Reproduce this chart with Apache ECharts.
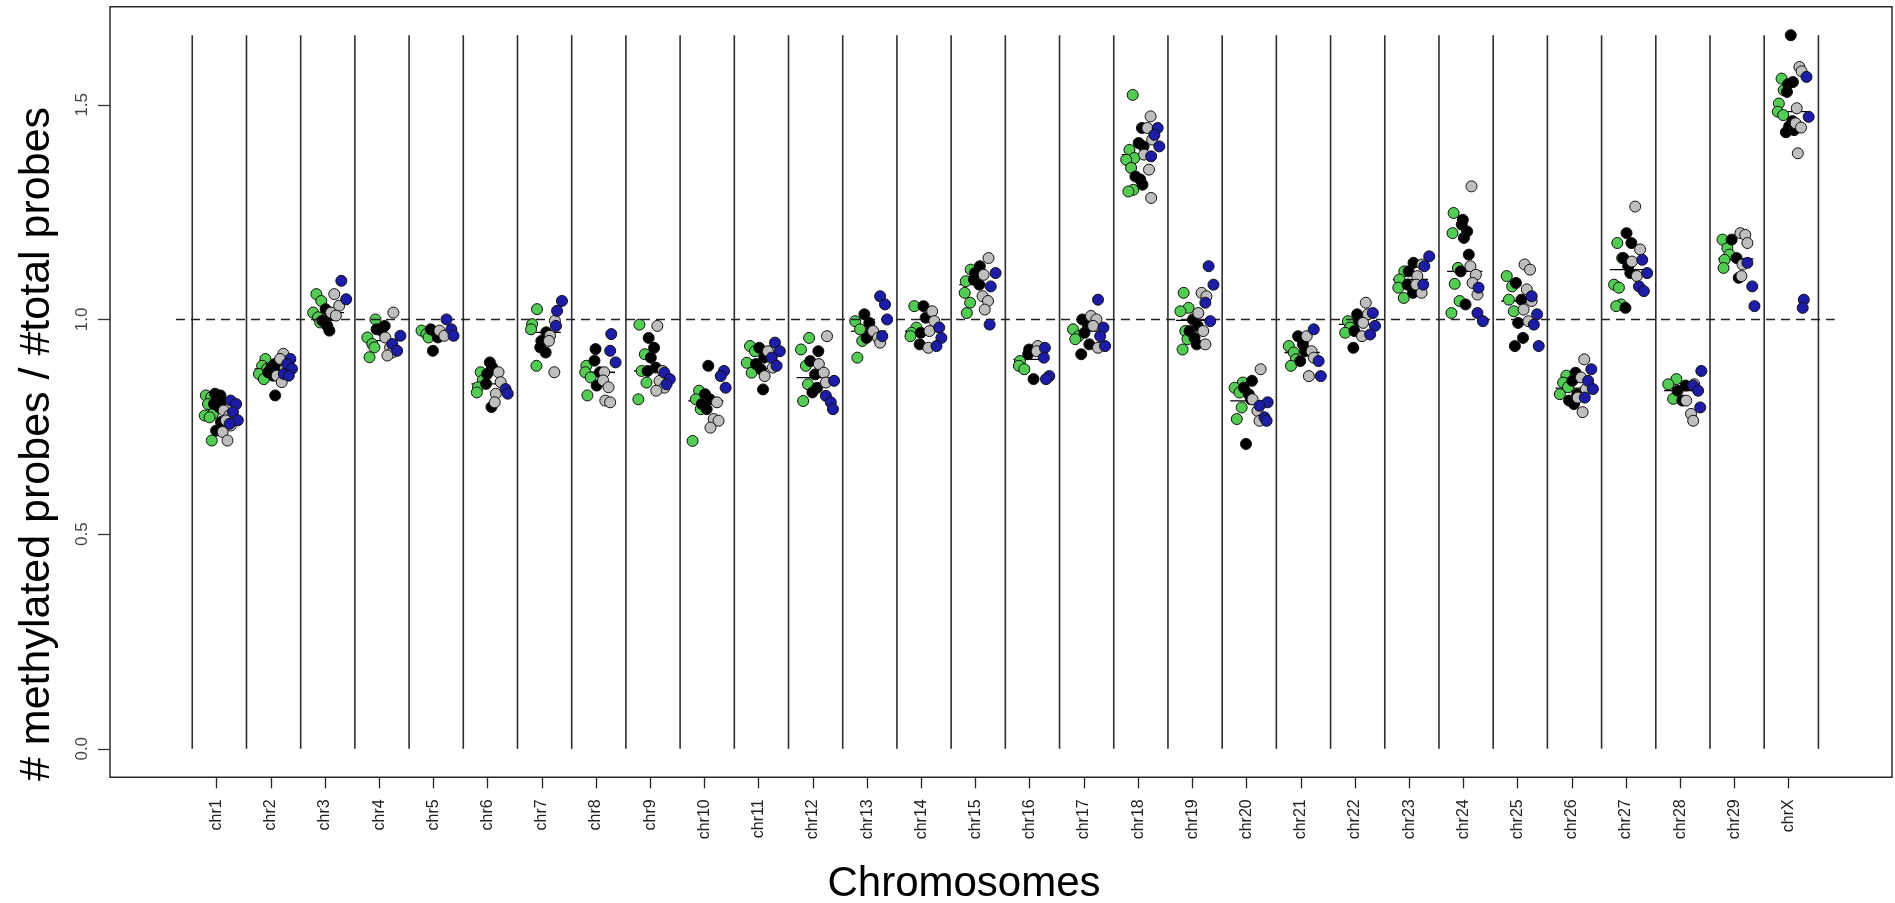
<!DOCTYPE html>
<html><head><meta charset="utf-8">
<script src="https://cdn.jsdelivr.net/npm/echarts@6/dist/echarts.min.js"></script>
<style>html,body{margin:0;padding:0;background:#fff}#c{width:1895px;height:903px}</style>
</head><body><div id="c"></div>
<script>
const categories = ['chr1','chr2','chr3','chr4','chr5','chr6','chr7','chr8','chr9','chr10','chr11','chr12','chr13','chr14','chr15','chr16','chr17','chr18','chr19','chr20','chr21','chr22','chr23','chr24','chr25','chr26','chr27','chr28','chr29','chrX'];

const greenVals = [
 [0.823,0.819,0.803,0.780,0.776,0.772,0.718],
 [0.908,0.892,0.885,0.873,0.861],
 [1.059,1.043,1.016,1.005,0.993],
 [1.000,0.958,0.943,0.935,0.912],
 [0.974,0.966,0.958],
 [0.877,0.858,0.842,0.830],
 [1.024,0.989,0.977,0.892],
 [0.892,0.877,0.865,0.823],
 [0.988,0.919,0.880,0.853,0.814],
 [0.834,0.814,0.791,0.717],
 [0.938,0.926,0.899,0.876],
 [0.957,0.930,0.892,0.849,0.810],
 [0.996,0.977,0.950,0.911],
 [1.031,0.981,0.969,0.961],
 [1.116,1.089,1.062,1.039,1.015],
 [0.903,0.892,0.884],
 [0.977,0.961,0.954],
 [1.523,1.395,1.376,1.372,1.353,1.302,1.298],
 [1.062,1.027,1.019,0.973,0.954,0.930],
 [0.853,0.841,0.830,0.795,0.768],
 [0.938,0.923,0.907,0.892],
 [0.996,0.981,0.969],
 [1.112,1.093,1.074,1.050],
 [1.248,1.201,1.120,1.083,1.043,1.015],
 [1.101,1.077,1.046,1.019],
 [0.869,0.853,0.842,0.826],
 [1.178,1.143,1.081,1.074,1.035,1.031],
 [0.861,0.849,0.815],
 [1.186,1.166,1.151,1.139,1.120],
 [1.561,1.534,1.503,1.484,1.476]
];
const blackVals = [
 [0.827,0.823,0.819,0.811,0.803,0.796,0.761,0.741],
 [0.896,0.889,0.885,0.877,0.869,0.823],
 [1.024,1.009,0.997,0.985,0.974],
 [0.985,0.977,0.974],
 [0.977,0.970,0.958,0.927],
 [0.900,0.889,0.873,0.850,0.796],
 [0.970,0.950,0.935,0.923],
 [0.931,0.904,0.877,0.846],
 [0.957,0.934,0.911,0.888,0.880],
 [0.892,0.826,0.814,0.803,0.791],
 [0.934,0.911,0.896,0.884,0.837],
 [0.926,0.903,0.872,0.841,0.830],
 [1.012,0.992,0.973,0.957],
 [1.031,1.004,0.969,0.942],
 [1.124,1.108,1.093,1.081],
 [0.930,0.919,0.861],
 [1.000,0.988,0.969,0.942,0.919],
 [1.446,1.411,1.403,1.333,1.326,1.314],
 [1.000,0.985,0.973,0.957,0.942],
 [0.857,0.841,0.826,0.814,0.710],
 [0.961,0.942,0.926,0.903],
 [1.012,0.996,0.973,0.934],
 [1.132,1.112,1.081,1.062],
 [1.232,1.221,1.205,1.190,1.151,1.112,1.035],
 [1.085,1.046,0.992,0.957,0.938],
 [0.876,0.857,0.826,0.811,0.803],
 [1.201,1.178,1.143,1.124,1.108,1.027],
 [0.846,0.834,0.811],
 [1.186,1.143,1.097],
 [1.662,1.553,1.548,1.530,1.462,1.450,1.441,1.436]
];
const greyVals = [
 [0.788,0.776,0.765,0.753,0.738,0.718],
 [0.920,0.908,0.885,0.869,0.854],
 [1.059,1.032,1.016,1.009],
 [1.016,0.958,0.935,0.923,0.916],
 [0.974,0.962],
 [0.877,0.854,0.827,0.807],
 [0.997,0.962,0.950,0.877],
 [0.877,0.858,0.842,0.811,0.807],
 [0.985,0.880,0.857,0.841,0.834],
 [0.807,0.768,0.764,0.748],
 [0.926,0.888,0.868],
 [0.961,0.896,0.876,0.853],
 [0.973,0.957,0.946],
 [1.019,0.996,0.973,0.934],
 [1.143,1.104,1.054,1.043,1.023],
 [0.938,0.926],
 [1.008,1.000,0.985,0.934],
 [1.473,1.446,1.419,1.384,1.349,1.283],
 [1.062,1.054,1.015,0.973,0.942],
 [0.884,0.814,0.787,0.764],
 [0.961,0.926,0.911,0.868],
 [1.039,1.012,0.992,0.961],
 [1.128,1.101,1.081,1.062],
 [1.310,1.124,1.104,1.085,1.058],
 [1.128,1.116,1.070,1.043,1.023,0.996],
 [0.907,0.865,0.838,0.818,0.784],
 [1.263,1.163,1.135,1.101],
 [0.849,0.811,0.780,0.764],
 [1.201,1.197,1.178,1.128,1.101],
 [1.588,1.578,1.492,1.457,1.447,1.387]
];
const blueVals = [
 [0.811,0.803,0.784,0.765,0.757],
 [0.908,0.896,0.885,0.873,0.869],
 [1.090,1.047],
 [0.962,0.943,0.927],
 [1.000,0.977,0.962],
 [0.838,0.827],
 [1.043,1.020,0.985],
 [0.966,0.927,0.900],
 [0.876,0.861,0.849],
 [0.880,0.868,0.841],
 [0.946,0.926,0.911,0.892],
 [0.857,0.822,0.807,0.791],
 [1.054,1.035,1.000,0.961],
 [0.981,0.957,0.938],
 [1.108,1.077,0.988],
 [0.934,0.911,0.868,0.861],
 [1.046,0.981,0.961,0.938],
 [1.446,1.430,1.403,1.380],
 [1.124,1.081,1.039,0.996],
 [0.807,0.799,0.772,0.764],
 [0.977,0.903,0.868],
 [1.015,0.985,0.965],
 [1.147,1.124,1.081],
 [1.074,1.015,0.996],
 [1.054,1.012,0.988,0.938],
 [0.884,0.857,0.838,0.818],
 [1.139,1.108,1.077,1.066],
 [0.880,0.846,0.834,0.795],
 [1.132,1.077,1.031],
 [1.565,1.472,1.046,1.027]
];
const yTicks = [0, 0.5, 1.0, 1.5];
const refLevel = 1.0;
const originPoint = [0.25, 0];

// ---- layout / style (not data) ----
const groupOffset = [-0.14, 0.03, 0.19, 0.32];
const jitter = [-0.06, 0.04, -0.02, 0.07, -0.08, 0.01, 0.05, -0.04];
const groupColor = ['#52cc52', '#000000', '#bebebe', '#1c1ca6'];
const groups = [greenVals, blackVals, greyVals, blueVals];

function pts(g){
  const out = [];
  groups[g].forEach((arr, ci) => {
    arr.forEach((v, j) => out.push([ci + 1 + groupOffset[g] + jitter[(j + ci) % jitter.length], v]));
  });
  return out;
}
const allVals = groups.flat(2);
const yMaxData = Math.max(...allVals);
const yMinData = 0;
const ext = 0.04 * (yMaxData - yMinData);
const xDataMin = originPoint[0], xDataMax = categories.length + 0.69;
const xExt = 0.04 * (xDataMax - xDataMin);

function median(a){ const s=[...a].sort((p,q)=>p-q); const n=s.length; return n%2? s[(n-1)/2] : (s[n/2-1]+s[n/2])/2; }
const medians = categories.map((c, i) => [i + 1, median(groups.map(g => g[i]).flat())]);
const separators = [];
for (let k = 0; k <= categories.length; k++) separators.push([k + 0.55]);

const chart = echarts.init(document.getElementById('c'), null, {renderer: 'canvas'});
const font = 'Arial, "Liberation Sans", Helvetica, sans-serif';
chart.setOption({
  animation: false,
  backgroundColor: '#fff',
  grid: {left: 110, right: 3, top: 6.7, bottom: 125.7, show: true, borderColor: '#2a2a2a', borderWidth: 1.5, backgroundColor: 'transparent'},
  xAxis: {
    type: 'value', min: xDataMin - xExt, max: xDataMax + xExt,
    axisLine: {show: false, onZero: false},
    splitLine: {show: false},
    axisTick: {show: true, length: 11, customValues: categories.map((c, i) => i + 1), lineStyle: {color: '#222', width: 1.3}},
    axisLabel: {show: true, rotate: 90, margin: 22, fontSize: 16, color: '#222', fontFamily: font,
      customValues: categories.map((c, i) => i + 1),
      formatter: v => categories[Math.round(v) - 1] || ''}
  },
  yAxis: {
    type: 'value', min: yMinData - ext, max: yMaxData + ext,
    axisLine: {show: false, onZero: false},
    splitLine: {show: false},
    axisTick: {show: true, length: 12, customValues: yTicks, lineStyle: {color: '#333', width: 1.3}},
    axisLabel: {show: true, rotate: 90, margin: 19, fontSize: 17, color: '#444', fontFamily: font,
      customValues: yTicks, formatter: v => v.toFixed(1)}
  },
  graphic: [
    {type: 'text', x: 37, y: 444, rotation: Math.PI / 2,
     style: {text: '# methylated probes / #total probes', fontSize: 43, fontFamily: font, fill: '#000', align: 'center', verticalAlign: 'middle'}},
    {type: 'text', x: 964, y: 884,
     style: {text: 'Chromosomes', fontSize: 42, fontFamily: font, fill: '#000', align: 'center', verticalAlign: 'middle'}}
  ],
  series: [
    {type: 'custom', silent: true, z: 1, data: separators,
     renderItem: (params, api) => {
       const x = api.value(0);
       const p1 = api.coord([x, 0]), p2 = api.coord([x, yMaxData]);
       return {type: 'line', shape: {x1: p1[0], y1: p1[1], x2: p2[0], y2: p2[1]}, style: {stroke: '#2e2e2e', lineWidth: 1.6}};
     },
     markLine: {silent: true, symbol: 'none', label: {show: false},
       lineStyle: {color: '#222', width: 1.3, type: [9, 6]},
       data: [[{coord: [xDataMin, refLevel]}, {coord: [categories.length + 0.85, refLevel]}]]}
    },
    {type: 'custom', silent: true, z: 2, data: medians,
     renderItem: (params, api) => {
       const x = api.value(0), y = api.value(1);
       const p1 = api.coord([x - 0.3, y]), p2 = api.coord([x + 0.35, y]);
       return {type: 'line', shape: {x1: p1[0], y1: p1[1], x2: p2[0], y2: p2[1]}, style: {stroke: '#000', lineWidth: 1.3}};
     }
    },
    {type: 'scatter', silent: true, z: 3, data: [originPoint], symbol: 'emptyCircle', symbolSize: 6,
     itemStyle: {color: '#fff', borderColor: '#bbb', borderWidth: 1}},
    ...[0, 1, 2, 3].map(g => ({
      type: 'scatter', silent: true, z: 4 + g, data: pts(g), symbolSize: 11,
      itemStyle: {color: groupColor[g], borderColor: '#111', borderWidth: 1, opacity: 1}
    }))
  ]
});
</script>
</body></html>
